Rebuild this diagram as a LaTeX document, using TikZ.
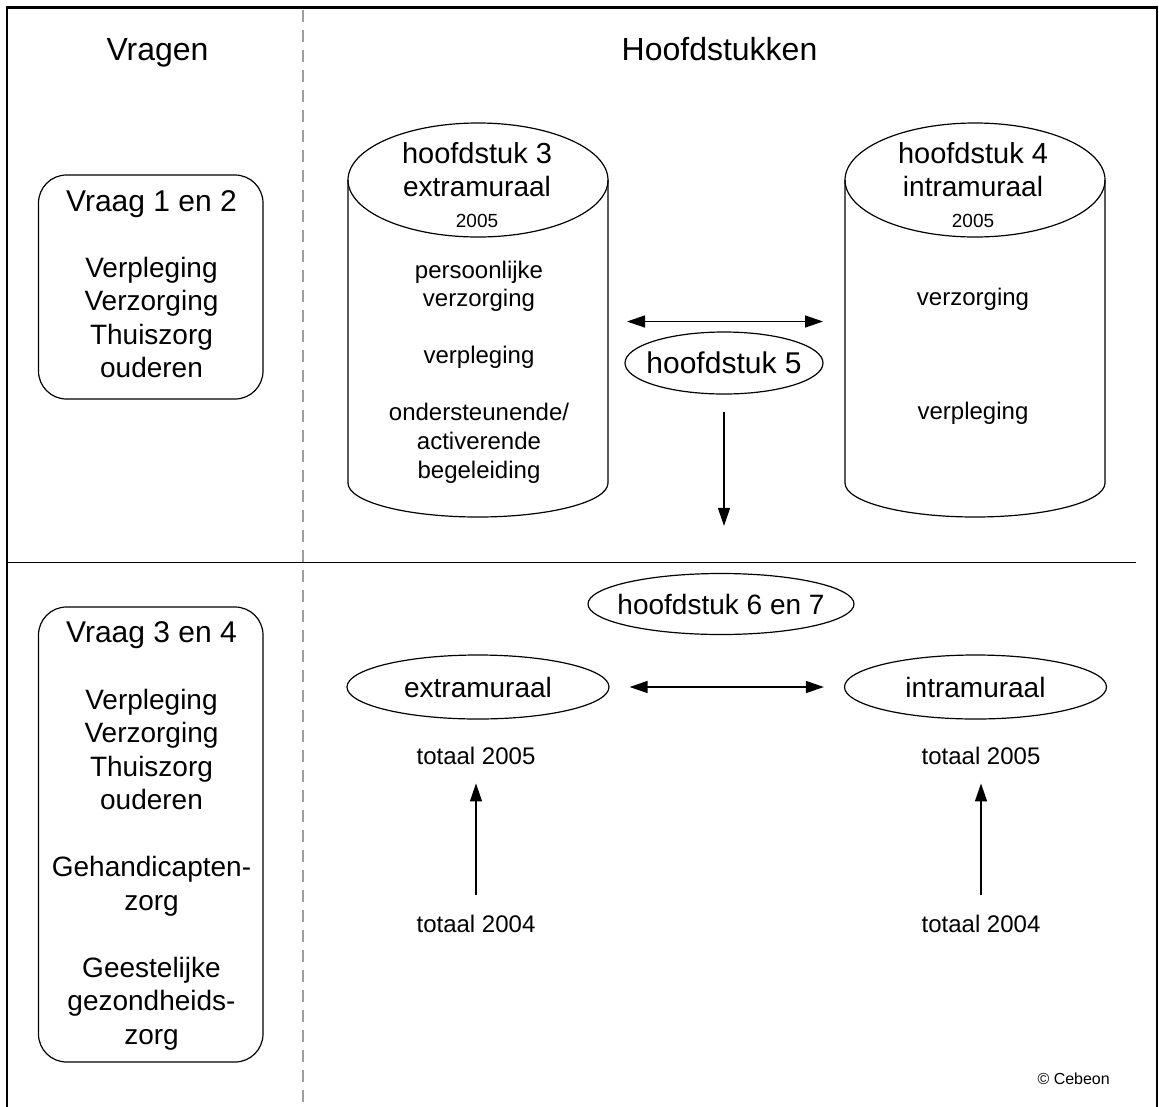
\documentclass[tikz,border=0pt]{standalone}
\usepackage{fontspec}
\setmainfont{Liberation Sans}
\usetikzlibrary{arrows.meta,shapes.geometric}
\begin{document}
\begin{tikzpicture}[x=1pt,y=-1pt,
  txt/.style={inner sep=0pt, anchor=base, font=\fontsize{#1}{#1}\selectfont},
  txt/.default=28,
  shp/.style={draw=black, line width=1.2pt},
  ell/.style={shp, ellipse, inner sep=0pt, font=\fontsize{#1}{#1}\selectfont},
  ell/.default=28,
  arr/.style={line width=1.4pt, -{Triangle[length=18pt,width=12pt]}},
  dbl/.style={line width=1.4pt, {Triangle[length=18pt,width=12pt]}-{Triangle[length=18pt,width=12pt]}},
  rbox/.style={shp, rounded corners=28pt, minimum width=224.5pt, inner sep=0pt},
  cyltop/.style={shp, ellipse, minimum width=260pt, minimum height=114pt, inner sep=0pt},
]
\useasboundingbox (0,0) rectangle (1159,1106);
\fill[white] (0,0) rectangle (1159,1106);

% frame and dividers
\draw[line width=2.4pt] (7,1112) -- (7,7.5) -- (1157,7.5) -- (1157,1112);
\draw[black!38, line width=1.3pt, dash pattern=on 12pt off 8pt] (303,10) -- (303,1106);
\draw[line width=1.8pt] (8,562.5) -- (1136,562.5);

% headings
\node[txt=32] (vragen) at (157.5,60) {Vragen};
\node[txt=32] (hoofd) at (719.5,60) {Hoofdstukken};

% question boxes
\node[rbox, minimum height=224pt] (box1) at (150.75,287) {};
\node[txt=30] (vraag12) at (151.5,211) {Vraag 1 en 2};
\foreach \t/\y [count=\i] in {Verpleging/277, Verzorging/310.5, Thuiszorg/344, ouderen/377.5}
  \node[txt=28] (b1l\i) at (151.5,\y) {\t};

\node[rbox, minimum height=455pt] (box2) at (150.75,834.5) {};
\node[txt=30] (vraag34) at (151.5,642) {Vraag 3 en 4};
\foreach \t/\y [count=\i] in {Verpleging/709, Verzorging/742.5, Thuiszorg/776, ouderen/809.5, Gehandicapten-/876.5, zorg/910, Geestelijke/977, gezondheids-/1010.5, zorg/1044}
  \node[txt=28] (b2l\i) at (151.5,\y) {\t};

% cylinder hoofdstuk 3
\node[cyltop] (cyl1) at (478,180) {};
\draw[shp] (348,180) -- (348,483) .. controls (348,501.8) and (406.2,517) .. (478,517)
  .. controls (549.8,517) and (608,501.8) .. (608,483) -- (608,180);
\node[txt=29] (c1a) at (477,163) {hoofdstuk 3};
\node[txt=28] (c1b) at (477,196) {extramuraal};
\node[txt=19] (c1c) at (477,227) {2005};
\foreach \t/\y [count=\i] in {persoonlijke/278, verzorging/306.5, verpleging/363, {ondersteunende/}/420, activerende/449, begeleiding/478}
  \node[txt=24] (c1l\i) at (479,\y) {\t};

% cylinder hoofdstuk 4
\node[cyltop] (cyl2) at (975,180) {};
\draw[shp] (845,180) -- (845,483) .. controls (845,501.8) and (903.2,517) .. (975,517)
  .. controls (1046.8,517) and (1105,501.8) .. (1105,483) -- (1105,180);
\node[txt=29] (c2a) at (973,163) {hoofdstuk 4};
\node[txt=28] (c2b) at (973,196) {intramuraal};
\node[txt=19] (c2c) at (973,227) {2005};
\node[txt=24] (c2l1) at (973,305) {verzorging};
\node[txt=24] (c2l2) at (973,419) {verpleging};

% hoofdstuk 5
\coordinate (ta) at (627,321.5);
\coordinate (tb) at (823,321.5);
\draw[dbl] (ta) -- (tb);
\node[ell=30, minimum width=198pt, minimum height=62pt] (h5) at (724,363) {\makebox[0pt]{hoofdstuk 5}};

% hoofdstuk 6 en 7
\node[ell=28, minimum width=266pt, minimum height=61pt] (h67) at (721,604) {\makebox[0pt]{hoofdstuk 6 en 7}};
\draw[arr, shorten <=17pt, shorten >=47pt] (h5.south) -- (h5.south |- h67.north);

\node[ell=28, minimum width=262pt, minimum height=64pt] (ext) at (478,687) {\makebox[0pt]{extramuraal}};
\node[ell=28, minimum width=262pt, minimum height=64pt] (int) at (975.5,687) {\makebox[0pt]{intramuraal}};
\draw[dbl, shorten <=20pt, shorten >=20pt] (ext) -- (int);

\node[txt=24] (t05a) at (476,764) {totaal 2005};
\node[txt=24] (t04a) at (476,932) {totaal 2004};
\node[txt=24] (t05b) at (981,764) {totaal 2005};
\node[txt=24] (t04b) at (981,932) {totaal 2004};
\draw[arr, shorten <=19.5pt, shorten >=19pt] (t04a) -- (t05a);
\draw[arr, shorten <=19.5pt, shorten >=19pt] (t04b) -- (t05b);

\node[txt=16, anchor=base east] (copy) at (1110,1084) {© Cebeon};
\end{tikzpicture}
\end{document}
